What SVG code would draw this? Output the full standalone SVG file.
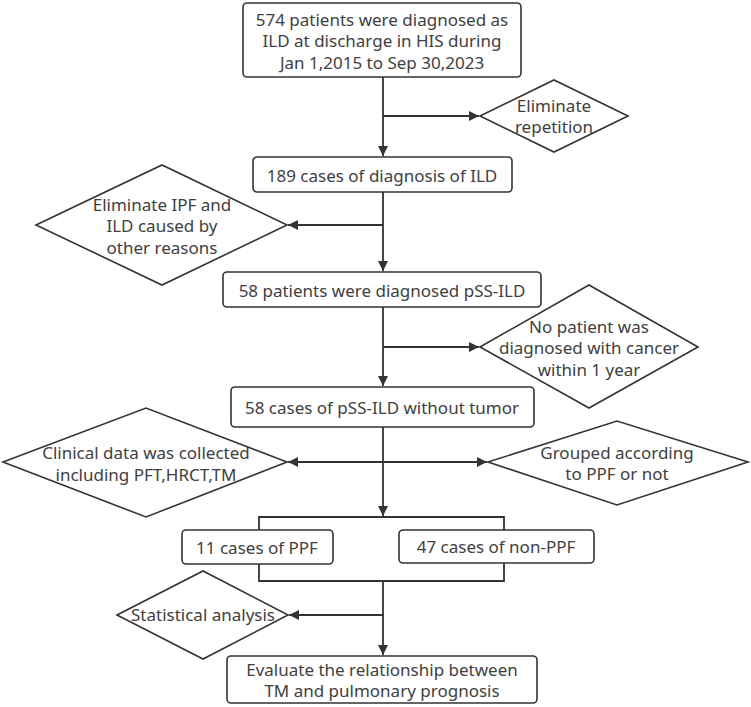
<svg xmlns="http://www.w3.org/2000/svg" width="751" height="707" viewBox="0 0 751 707">
<defs>
<style>
.box{fill:#fff;stroke:#333;stroke-width:1.6}
.dia{fill:#fff;stroke:#333;stroke-width:1.6}
.ln{fill:none;stroke:#333;stroke-width:1.8}
text{font-family:"Noto Sans","Open Sans","DejaVu Sans",sans-serif;font-size:17px;fill:#404040;text-anchor:middle;dominant-baseline:central}
</style>
<marker id="ah" viewBox="0 0 10 10" refX="10" refY="5" markerWidth="11" markerHeight="10" markerUnits="userSpaceOnUse" orient="auto">
<path d="M0,0 L10,5 L0,10 z" fill="#333"/>
</marker>
</defs>
<rect width="751" height="707" fill="#fff"/>
<g id="connectors">
<line class="ln" x1="383" y1="77" x2="383" y2="156" marker-end="url(#ah)"/>
<line class="ln" x1="383" y1="116" x2="479" y2="116" marker-end="url(#ah)"/>
<line class="ln" x1="383" y1="192" x2="383" y2="271" marker-end="url(#ah)"/>
<line class="ln" x1="383" y1="225" x2="288" y2="225" marker-end="url(#ah)"/>
<line class="ln" x1="383" y1="306" x2="383" y2="386" marker-end="url(#ah)"/>
<line class="ln" x1="383" y1="347" x2="479" y2="347" marker-end="url(#ah)"/>
<line class="ln" x1="383" y1="426" x2="383" y2="516" marker-end="url(#ah)"/>
<line class="ln" x1="383" y1="462" x2="487" y2="462" marker-end="url(#ah)"/>
<line class="ln" x1="383" y1="462" x2="288" y2="462" marker-end="url(#ah)"/>
<polyline class="ln" points="259,530 259,517 504,517 504,530"/>
<polyline class="ln" points="259,564 259,581 504,581 504,563"/>
<line class="ln" x1="383" y1="581" x2="383" y2="655" marker-end="url(#ah)"/>
<line class="ln" x1="384" y1="615" x2="289" y2="615" marker-end="url(#ah)"/>
</g>
<g id="n1">
<rect class="box" x="243" y="3" width="278" height="74" rx="4"/>
<text x="382" y="19">574 patients were diagnosed as</text>
<text x="382" y="40.5">ILD at discharge in HIS during</text>
<text x="382" y="62">Jan 1,2015 to Sep 30,2023</text>
</g>
<g id="d1">
<polygon class="dia" points="480,116 554,80 628,116 554,152"/>
<text x="554" y="105">Eliminate</text>
<text x="554" y="126.5">repetition</text>
</g>
<g id="n2">
<rect class="box" x="253" y="157" width="259" height="35" rx="4"/>
<text x="382" y="175">189 cases of diagnosis of ILD</text>
</g>
<g id="d2">
<polygon class="dia" points="36,225 162,165 287,225 162,285"/>
<text x="162" y="204">Eliminate IPF and</text>
<text x="162" y="225.5">ILD caused by</text>
<text x="162" y="247">other reasons</text>
</g>
<g id="n3">
<rect class="box" x="223" y="272" width="318" height="35" rx="4"/>
<text x="382" y="290">58 patients were diagnosed pSS-ILD</text>
</g>
<g id="d3">
<polygon class="dia" points="480,347 589,285 698,347 589,408"/>
<text x="589" y="326">No patient was</text>
<text x="589" y="347.5">diagnosed with cancer</text>
<text x="589" y="369">within 1 year</text>
</g>
<g id="n4">
<rect class="box" x="231" y="387" width="303" height="40" rx="4"/>
<text x="382" y="407">58 cases of pSS-ILD without tumor</text>
</g>
<g id="d4">
<polygon class="dia" points="3,462 146,408 287,462 146,517"/>
<text x="146" y="452.5">Clinical data was collected</text>
<text x="146" y="474">including PFT,HRCT,TM</text>
</g>
<g id="d5">
<polygon class="dia" points="488,462 617,421 748,462 617,505"/>
<text x="617" y="452">Grouped according</text>
<text x="617" y="473.5">to PPF or not</text>
</g>
<g id="n5">
<rect class="box" x="182" y="530" width="151" height="34" rx="4"/>
<text x="257" y="547">11 cases of PPF</text>
</g>
<g id="n6">
<rect class="box" x="399" y="530" width="195" height="33" rx="4"/>
<text x="496" y="546">47 cases of non-PPF</text>
</g>
<g id="d6">
<polygon class="dia" points="117,615 203,571 288,615 203,659"/>
<text x="203" y="614">Statistical analysis</text>
</g>
<g id="n7">
<rect class="box" x="227" y="656" width="310" height="47" rx="4"/>
<text x="382" y="669">Evaluate the relationship between</text>
<text x="382" y="690.5">TM and pulmonary prognosis</text>
</g>
</svg>
